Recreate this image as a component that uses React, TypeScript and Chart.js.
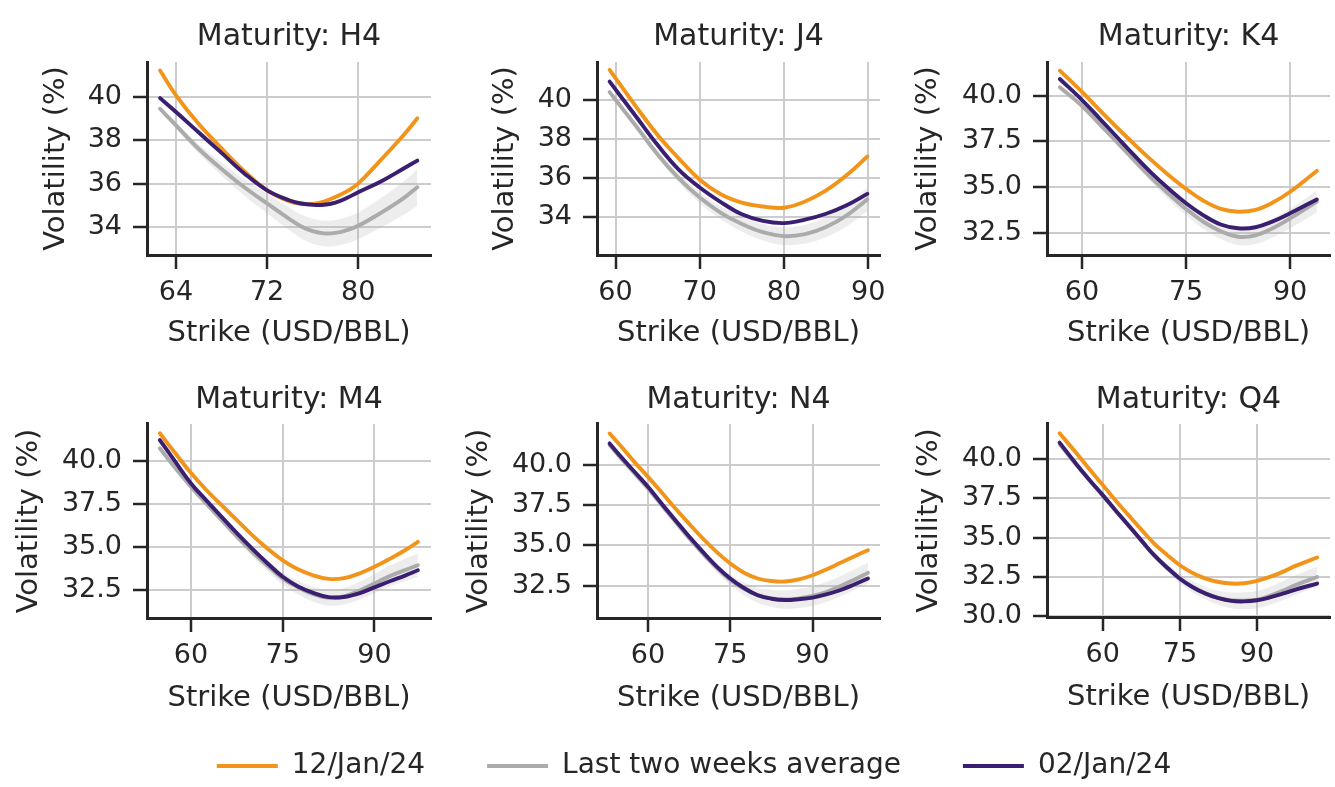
import React, { useEffect, useRef } from "react";
import { Chart, registerables } from "chart.js";

Chart.register(...registerables);

// ---------- data ----------
const seriesLabels = ["12/Jan/24", "Last two weeks average", "02/Jan/24"];
const xTitle = "Strike (USD/BBL)";
const yTitle = "Volatility (%)";

// H4
const strikesH4 = [62.6, 64, 66, 68, 70, 72, 74, 75, 76, 77, 78, 79, 80, 82, 84, 85.2];
const jan12H4 = [41.23, 40.08, 38.75, 37.63, 36.57, 35.69, 35.17, 35.07, 35.06, 35.17, 35.38, 35.64, 36.0, 37.1, 38.25, 39.02];
const avgH4 = [39.46, 38.69, 37.6, 36.68, 35.83, 35.08, 34.35, 34.02, 33.8, 33.7, 33.72, 33.85, 34.05, 34.65, 35.33, 35.83];
const avgLoH4 = [39.34, 38.54, 37.38, 36.38, 35.45, 34.63, 33.83, 33.47, 33.22, 33.11, 33.12, 33.24, 33.43, 33.97, 34.56, 34.98];
const avgHiH4 = [39.58, 38.84, 37.82, 36.98, 36.21, 35.53, 34.87, 34.57, 34.38, 34.29, 34.32, 34.46, 34.67, 35.33, 36.1, 36.68];
const jan02H4 = [39.95, 39.31, 38.36, 37.42, 36.47, 35.69, 35.22, 35.08, 35.02, 35.02, 35.12, 35.33, 35.6, 36.1, 36.7, 37.06];
const xTicksH4 = [64, 72, 80];
const yTicksH4 = [34, 36, 38, 40];

// J4
const strikesJ4 = [59.3, 62.5, 65, 67.5, 70, 72.5, 75, 77.5, 80, 82.5, 85, 87.5, 89.9];
const jan12J4 = [41.55, 39.62, 38.2, 37.0, 35.9, 35.15, 34.72, 34.52, 34.46, 34.78, 35.35, 36.15, 37.09];
const avgJ4 = [40.4, 38.62, 37.2, 35.98, 34.98, 34.2, 33.62, 33.2, 33.0, 33.1, 33.47, 34.08, 34.89];
const avgLoJ4 = [40.3, 38.49, 37.03, 35.76, 34.7, 33.87, 33.24, 32.78, 32.55, 32.62, 32.95, 33.52, 34.29];
const avgHiJ4 = [40.5, 38.75, 37.37, 36.2, 35.26, 34.53, 34.0, 33.62, 33.45, 33.58, 33.99, 34.64, 35.49];
const jan02J4 = [40.94, 39.11, 37.68, 36.42, 35.5, 34.75, 34.12, 33.78, 33.67, 33.85, 34.15, 34.6, 35.17];
const xTicksJ4 = [60, 70, 80, 90];
const yTicksJ4 = [34, 36, 38, 40];

// K4
const strikesK4 = [56.8, 60, 62.5, 65, 67.5, 70, 72.5, 75, 77.5, 80, 82.5, 85, 87.5, 90, 93.85];
const jan12K4 = [41.37, 40.2, 39.22, 38.27, 37.35, 36.47, 35.65, 34.9, 34.25, 33.8, 33.65, 33.75, 34.15, 34.74, 35.88];
const avgK4 = [40.46, 39.43, 38.45, 37.47, 36.47, 35.5, 34.62, 33.8, 33.1, 32.58, 32.28, 32.35, 32.75, 33.28, 34.2];
const avgLoK4 = [40.38, 39.33, 38.32, 37.31, 36.27, 35.25, 34.32, 33.45, 32.7, 32.15, 31.83, 31.88, 32.25, 32.74, 33.6];
const avgHiK4 = [40.54, 39.53, 38.58, 37.63, 36.67, 35.75, 34.92, 34.15, 33.5, 33.01, 32.73, 32.82, 33.25, 33.82, 34.8];
const jan02K4 = [40.91, 39.76, 38.76, 37.75, 36.74, 35.77, 34.9, 34.11, 33.45, 32.95, 32.74, 32.8, 33.12, 33.56, 34.32];
const xTicksK4 = [60, 75, 90];
const yTicksK4 = [32.5, 35, 37.5, 40];

// M4
const strikesM4 = [54.9, 57.5, 60, 62.5, 65, 67.5, 70, 72.5, 75, 77.5, 80, 82.5, 85, 87.5, 90, 92.5, 95, 97.1];
const jan12M4 = [41.59, 40.4, 39.28, 38.3, 37.42, 36.55, 35.68, 34.9, 34.22, 33.7, 33.35, 33.14, 33.18, 33.45, 33.84, 34.3, 34.8, 35.29];
const avgM4 = [40.72, 39.55, 38.49, 37.5, 36.55, 35.6, 34.71, 33.9, 33.16, 32.65, 32.25, 32.04, 32.13, 32.45, 32.87, 33.3, 33.65, 33.93];
const avgLoM4 = [40.66, 39.47, 38.39, 37.37, 36.39, 35.4, 34.46, 33.6, 32.81, 32.25, 31.82, 31.59, 31.65, 31.93, 32.31, 32.7, 33.01, 33.25];
const avgHiM4 = [40.78, 39.63, 38.59, 37.63, 36.71, 35.8, 34.96, 34.2, 33.51, 33.05, 32.68, 32.49, 32.61, 32.97, 33.43, 33.9, 34.29, 34.61];
const jan02M4 = [41.2, 39.9, 38.68, 37.7, 36.74, 35.8, 34.9, 34.05, 33.26, 32.7, 32.33, 32.08, 32.09, 32.3, 32.65, 33.0, 33.33, 33.64];
const xTicksM4 = [60, 75, 90];
const yTicksM4 = [32.5, 35, 37.5, 40];

// N4
const strikesN4 = [53.0, 55, 57.5, 60, 62.5, 65, 67.5, 70, 72.5, 75, 77.5, 80, 82.5, 85, 87.5, 90, 92.5, 95, 97.5, 100.1];
const jan12N4 = [41.97, 41.2, 40.2, 39.27, 38.3, 37.3, 36.35, 35.43, 34.6, 33.87, 33.3, 32.94, 32.78, 32.75, 32.88, 33.14, 33.5, 33.9, 34.3, 34.7];
const avgN4 = [41.25, 40.45, 39.5, 38.55, 37.5, 36.47, 35.45, 34.5, 33.62, 32.85, 32.3, 31.9, 31.7, 31.63, 31.7, 31.85, 32.1, 32.45, 32.85, 33.29];
const avgLoN4 = [41.19, 40.38, 39.42, 38.45, 37.38, 36.32, 35.27, 34.28, 33.35, 32.53, 31.9, 31.43, 31.17, 31.06, 31.1, 31.24, 31.48, 31.82, 32.21, 32.64];
const avgHiN4 = [41.31, 40.52, 39.58, 38.65, 37.62, 36.62, 35.63, 34.72, 33.89, 33.17, 32.7, 32.37, 32.23, 32.2, 32.3, 32.46, 32.72, 33.08, 33.49, 33.94];
const jan02N4 = [41.35, 40.55, 39.6, 38.65, 37.6, 36.57, 35.55, 34.6, 33.7, 32.94, 32.35, 31.9, 31.68, 31.6, 31.65, 31.75, 31.95, 32.21, 32.55, 32.94];
const xTicksN4 = [60, 75, 90];
const yTicksN4 = [32.5, 35, 37.5, 40];

// Q4
const strikesQ4 = [51.6, 55, 57.5, 60, 62.5, 65, 67.5, 70, 72.5, 75, 77.5, 80, 82.5, 85, 87.5, 90, 92.5, 95, 97.5, 101.7];
const jan12Q4 = [41.61, 40.3, 39.3, 38.33, 37.35, 36.42, 35.5, 34.62, 33.9, 33.24, 32.75, 32.39, 32.18, 32.08, 32.1, 32.25, 32.5, 32.82, 33.2, 33.73];
const avgQ4 = [40.93, 39.55, 38.58, 37.65, 36.7, 35.75, 34.8, 33.87, 33.08, 32.4, 31.87, 31.47, 31.18, 31.02, 31.0, 31.06, 31.3, 31.62, 31.98, 32.5];
const avgLoQ4 = [40.88, 39.49, 38.51, 37.57, 36.6, 35.63, 34.65, 33.67, 32.83, 32.1, 31.52, 31.07, 30.73, 30.52, 30.47, 30.51, 30.73, 31.02, 31.36, 31.86];
const avgHiQ4 = [40.98, 39.61, 38.65, 37.73, 36.8, 35.87, 34.95, 34.07, 33.33, 32.7, 32.22, 31.87, 31.63, 31.52, 31.53, 31.61, 31.87, 32.22, 32.6, 33.14];
const jan02Q4 = [41.02, 39.6, 38.62, 37.69, 36.72, 35.78, 34.82, 33.88, 33.1, 32.39, 31.85, 31.44, 31.15, 30.98, 30.95, 31.02, 31.2, 31.44, 31.7, 32.08];
const xTicksQ4 = [60, 75, 90];
const yTicksQ4 = [30, 32.5, 35, 37.5, 40];

// axis limits
const xLimits = [[61.45, 86.4], [57.8, 91.4], [54.95, 95.75], [52.8, 99.25], [50.7, 102.3], [49.15, 104.2]];
const yLimits = [[32.7, 41.62], [32.03, 41.95], [31.28, 41.84], [30.87, 42.13], [30.48, 42.56], [29.96, 42.2]];

const panels = [
  { maturity: "H4", strikes: strikesH4, jan12: jan12H4, avg: avgH4, lo: avgLoH4, hi: avgHiH4, jan02: jan02H4, xTicks: xTicksH4, yTicks: yTicksH4, yDec: 0 },
  { maturity: "J4", strikes: strikesJ4, jan12: jan12J4, avg: avgJ4, lo: avgLoJ4, hi: avgHiJ4, jan02: jan02J4, xTicks: xTicksJ4, yTicks: yTicksJ4, yDec: 0 },
  { maturity: "K4", strikes: strikesK4, jan12: jan12K4, avg: avgK4, lo: avgLoK4, hi: avgHiK4, jan02: jan02K4, xTicks: xTicksK4, yTicks: yTicksK4, yDec: 1 },
  { maturity: "M4", strikes: strikesM4, jan12: jan12M4, avg: avgM4, lo: avgLoM4, hi: avgHiM4, jan02: jan02M4, xTicks: xTicksM4, yTicks: yTicksM4, yDec: 1 },
  { maturity: "N4", strikes: strikesN4, jan12: jan12N4, avg: avgN4, lo: avgLoN4, hi: avgHiN4, jan02: jan02N4, xTicks: xTicksN4, yTicks: yTicksN4, yDec: 1 },
  { maturity: "Q4", strikes: strikesQ4, jan12: jan12Q4, avg: avgQ4, lo: avgLoQ4, hi: avgHiQ4, jan02: jan02Q4, xTicks: xTicksQ4, yTicks: yTicksQ4, yDec: 1 },
];

// ---------- layout & style ----------
const FONT = "'DejaVu Sans', 'Noto Sans', sans-serif";
const TEXT = "#262626";
const AXIS = "#262626";
const GRID = "#cccccc";
const ORANGE = "#F2941A";
const GRAY = "#ABABAB";
const PURPLE = "#3A1E70";
const BAND = "rgba(171,171,171,0.22)";
const TITLE_SIZE = 30;
const AXTITLE_SIZE = 29;
const TICK_SIZE = 27;
const LEGEND_SIZE = 28;
const LINE_W = 3.9;
const TENSION = 0.4;

const layouts = [
  { l: 147, r: 431, t: 62, b: 255, yOff: 90.5, tOff: 25.1, xOff: 78.5 },
  { l: 597, r: 880, t: 62, b: 255, yOff: 91.2, tOff: 25.1, xOff: 78.5 },
  { l: 1047, r: 1330, t: 62, b: 255, yOff: 117.7, tOff: 25.1, xOff: 78.5 },
  { l: 147, r: 431, t: 424, b: 618, yOff: 116.7, tOff: 23.8, xOff: 80.8 },
  { l: 597, r: 880, t: 424, b: 618, yOff: 117.5, tOff: 23.8, xOff: 80.8 },
  { l: 1047, r: 1330, t: 424, b: 617, yOff: 116.7, tOff: 23.8, xOff: 80.8 },
];

const pts = (xs: number[], ys: number[]) => xs.map((x, i) => ({ x, y: ys[i] }));

function PanelChart({ idx }: { idx: number }) {
  const ref = useRef<HTMLCanvasElement>(null);
  const p = panels[idx];
  const L = layouts[idx];
  const axHalf = (AXTITLE_SIZE * 1.2) / 2;
  const titleHalf = (TITLE_SIZE * 1.2) / 2;
  const canvasLeft = Math.floor(L.l - (L.yOff + axHalf));
  const yw = L.l - canvasLeft;
  const PR = 30;
  const W = Math.ceil(yw + (L.r - L.l) + PR);
  const canvasTop = Math.floor(L.t - L.tOff - titleHalf - 6);
  const tpt = L.t - L.tOff - titleHalf - canvasTop;
  const tpb = L.tOff - titleHalf;
  const xh = L.xOff + axHalf;
  const H = Math.ceil(L.b - canvasTop + xh + 4);
  const padBottom = H - (L.b - canvasTop) - xh;

  useEffect(() => {
    const lineDs = (label: string, ys: number[], color: string, order: number) => ({
      label,
      data: pts(p.strikes, ys),
      borderColor: color,
      backgroundColor: color,
      borderWidth: LINE_W,
      borderCapStyle: "round",
      borderJoinStyle: "round",
      pointRadius: 0,
      fill: false,
      tension: TENSION,
      order,
    });
    const chart = new Chart(ref.current!, {
      type: "line",
      data: {
        datasets: [
          { label: "band-hi", data: pts(p.strikes, p.hi), borderWidth: 0, borderColor: "rgba(0,0,0,0)", pointRadius: 0, fill: false, tension: TENSION, order: 3 },
          { label: "band-lo", data: pts(p.strikes, p.lo), borderWidth: 0, borderColor: "rgba(0,0,0,0)", backgroundColor: BAND, pointRadius: 0, fill: "-1", tension: TENSION, order: 3 },
          lineDs(seriesLabels[0], p.jan12, ORANGE, 2),
          lineDs(seriesLabels[1], p.avg, GRAY, 1),
          lineDs(seriesLabels[2], p.jan02, PURPLE, 0),
        ] as any,
      },
      options: {
        animation: false,
        responsive: false,
        events: [],
        layout: { autoPadding: false, padding: { left: 0, top: 0, right: PR, bottom: padBottom } },
        plugins: {
          legend: { display: false },
          tooltip: { enabled: false },
          title: {
            display: true,
            text: "Maturity: " + p.maturity,
            fullSize: false,
            color: TEXT,
            font: { family: FONT, size: TITLE_SIZE, weight: "normal" },
            padding: { top: tpt, bottom: tpb },
          },
        },
        scales: {
          x: {
            type: "linear",
            min: xLimits[idx][0],
            max: xLimits[idx][1],
            bounds: "data",
            afterBuildTicks: (s: any) => {
              s.ticks = p.xTicks.map((v) => ({ value: v }));
            },
            afterFit: (s: any) => {
              s.height = xh;
            },
            ticks: {
              autoSkip: false,
              maxRotation: 0,
              padding: 8,
              color: TEXT,
              font: { family: FONT, size: TICK_SIZE },
              callback: (v: any) => String(v),
            },
            grid: { color: GRID, lineWidth: 2, tickColor: AXIS, tickWidth: 2.5, tickLength: 14 },
            border: { color: AXIS, width: 3 },
            title: { display: true, text: xTitle, color: TEXT, font: { family: FONT, size: AXTITLE_SIZE }, padding: 0 },
          },
          y: {
            type: "linear",
            min: yLimits[idx][0],
            max: yLimits[idx][1],
            bounds: "data",
            afterBuildTicks: (s: any) => {
              s.ticks = p.yTicks.map((v) => ({ value: v }));
            },
            afterFit: (s: any) => {
              s.width = yw;
            },
            ticks: {
              autoSkip: false,
              padding: 11,
              color: TEXT,
              font: { family: FONT, size: TICK_SIZE },
              callback: (v: any) => Number(v).toFixed(p.yDec),
            },
            grid: { color: GRID, lineWidth: 2, tickColor: AXIS, tickWidth: 2.5, tickLength: 14 },
            border: { color: AXIS, width: 3 },
            title: { display: true, text: yTitle, color: TEXT, font: { family: FONT, size: AXTITLE_SIZE }, padding: 0 },
          },
        },
      } as any,
    });
    return () => chart.destroy();
  }, []);

  return (
    <canvas
      ref={ref}
      width={W}
      height={H}
      style={{ position: "absolute", left: canvasLeft, top: canvasTop, width: W, height: H }}
    />
  );
}

function LegendChart() {
  const ref = useRef<HTMLCanvasElement>(null);
  const W = 1300;
  const H = 340;
  const left = 44;
  const top = 690;
  useEffect(() => {
    const colors = [ORANGE, GRAY, PURPLE];
    const chart = new Chart(ref.current!, {
      type: "line",
      data: {
        datasets: seriesLabels.map((label, i) => ({
          label,
          data: [],
          borderColor: colors[i],
          backgroundColor: colors[i],
          borderWidth: LINE_W,
          borderCapStyle: "round",
        })),
      },
      options: {
        animation: false,
        responsive: false,
        events: [],
        layout: { autoPadding: false, padding: 0 },
        scales: { x: { display: false }, y: { display: false } },
        plugins: {
          tooltip: { enabled: false },
          legend: {
            display: true,
            position: "top",
            align: "center",
            maxHeight: 200,
            labels: {
              usePointStyle: true,
              pointStyle: "line",
              pointStyleWidth: 61,
              padding: 62,
              color: TEXT,
              font: { family: FONT, size: LEGEND_SIZE },
            },
          },
        },
      } as any,
    });
    return () => chart.destroy();
  }, []);
  return (
    <canvas
      ref={ref}
      width={W}
      height={H}
      style={{ position: "absolute", left, top, width: W, height: H }}
    />
  );
}

export default function App() {
  return (
    <div
      style={{
        position: "fixed",
        left: 0,
        top: 0,
        width: 1335,
        height: 787,
        background: "#ffffff",
        overflow: "hidden",
      }}
    >
      {panels.map((_, i) => (
        <PanelChart key={i} idx={i} />
      ))}
      <LegendChart />
    </div>
  );
}
